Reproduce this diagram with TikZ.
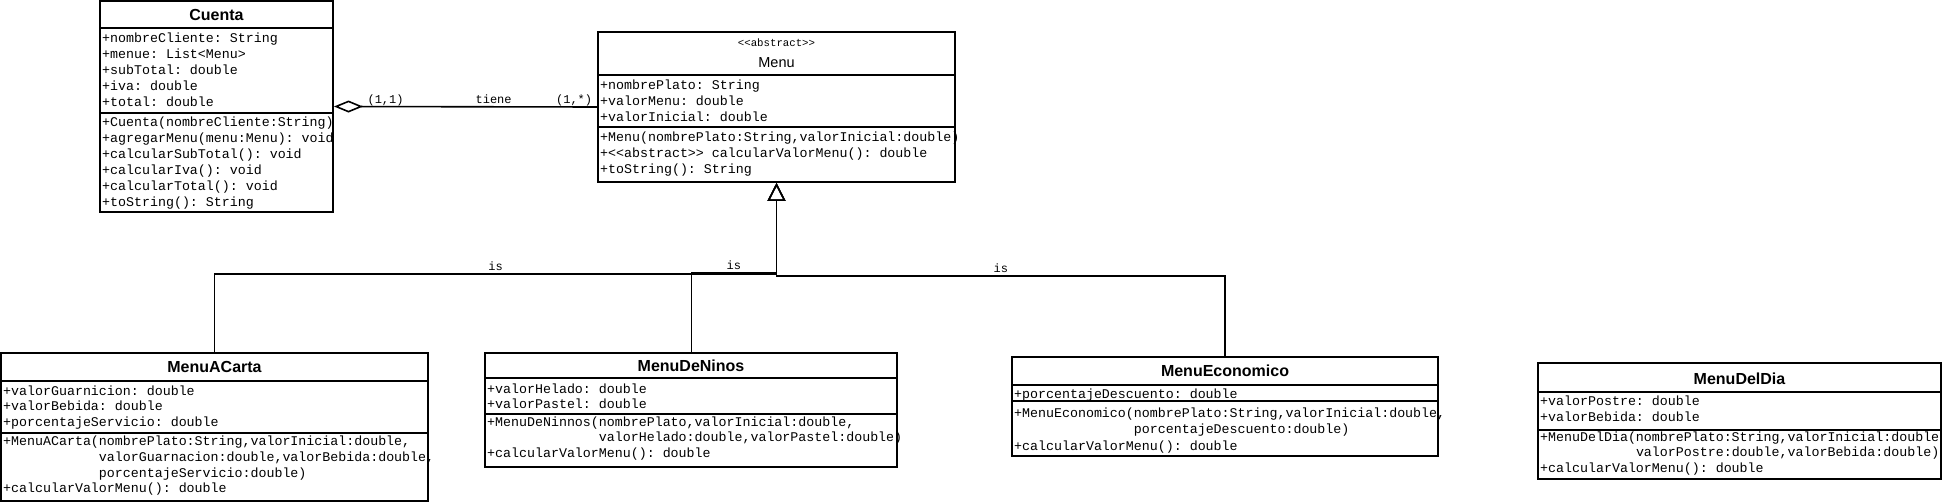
\documentclass[tikz,border=0pt]{standalone}
\usepackage{fontspec}
\setsansfont{Liberation Sans}
\setmonofont{Liberation Mono}
\usetikzlibrary{arrows.meta}

\begin{document}
\begin{tikzpicture}[x=1pt,y=-1pt,
  classbox/.style={draw, line width=2pt, inner sep=0pt},
  classname/.style={font=\sffamily\bfseries\fontsize{16}{18}\selectfont, inner sep=0pt},
  member/.style={font=\ttfamily\fontsize{13.3}{16}\selectfont, anchor=base west, inner sep=0pt},
  divider/.style={line width=2pt},
  assoc/.style={line width=1.6pt},
  linklabel/.style={font=\ttfamily\fontsize{12}{14}\selectfont, inner sep=0pt, anchor=base, yshift=3.5pt},
  isa/.style={line width=1.6pt, -{Triangle[open,length=18pt,width=18pt]}}]
\useasboundingbox (0,0) rectangle (1942,502);

% Cuenta
\node[classbox, minimum width=233pt, minimum height=211pt] (cuenta) at (216.5,106.5) {};
\node[classname] (cuenta-t) at (216.5,15) {Cuenta};
\draw[divider] (100,28) -- (333,28);
\draw[divider] (100,113) -- (333,113);
\foreach \t [count=\i] in {+nombreCliente: String, +menue: List<Menu>, +subTotal: double, +iva: double, +total: double}
  \node[member] (cuenta-a\i) at (102,26.9+15.85*\i) {\t};
\foreach \t [count=\i] in {+Cuenta(nombreCliente:String), +agregarMenu(menu:Menu): void, +calcularSubTotal(): void, +calcularIva(): void, +calcularTotal(): void, +toString(): String}
  \node[member] (cuenta-o\i) at (102,110.7+16*\i) {\t};

% Menu
\node[classbox, minimum width=357pt, minimum height=150pt] (menu) at (776.5,107) {};
\node[inner sep=0pt, anchor=base, font=\ttfamily\fontsize{10.7}{12}\selectfont] (menu-s) at (776.5,46.7) {<<abstract>>};
\node[inner sep=0pt, font=\sffamily\fontsize{14.5}{16}\selectfont] (menu-t) at (776.5,63) {Menu};
\draw[divider] (598,75) -- (955,75);
\draw[divider] (598,127) -- (955,127);
\foreach \t [count=\i] in {+nombrePlato: String, +valorMenu: double, +valorInicial: double}
  \node[member] (menu-a\i) at (600,73.4+16*\i) {\t};
\foreach \t [count=\i] in {{+Menu(nombrePlato:String,valorInicial:double)}, +<<abstract>> calcularValorMenu(): double, +toString(): String}
  \node[member] (menu-o\i) at (600,125.4+16*\i) {\t};

% MenuACarta
\node[classbox, minimum width=427pt, minimum height=148pt] (acarta) at (214.5,427) {};
\node[classname] (acarta-t) at (214.5,367) {MenuACarta};
\draw[divider] (1,381) -- (428,381);
\draw[divider] (1,433) -- (428,433);
\foreach \t [count=\i] in {+valorGuarnicion: double, +valorBebida: double, +porcentajeServicio: double}
  \node[member] (acarta-a\i) at (3,380+15.4*\i) {\t};
\foreach \t [count=\i] in {{+MenuACarta(nombrePlato:String,valorInicial:double,},
    {\phantom{+MenuACarta(}valorGuarnacion:double,valorBebida:double,},
    {\phantom{+MenuACarta(}porcentajeServicio:double)}, +calcularValorMenu(): double}
  \node[member] (acarta-o\i) at (3,429.6+15.8*\i) {\t};

% MenuDeNinos
\node[classbox, minimum width=412pt, minimum height=114pt] (deninos) at (691,410) {};
\node[classname] (deninos-t) at (691,366) {MenuDeNinos};
\draw[divider] (485,378) -- (897,378);
\draw[divider] (485,414) -- (897,414);
\foreach \t [count=\i] in {+valorHelado: double, +valorPastel: double}
  \node[member] (deninos-a\i) at (487,377.9+15.5*\i) {\t};
\foreach \t [count=\i] in {{+MenuDeNinnos(nombrePlato,valorInicial:double,},
    {\phantom{+MenuDeNinnos(}valorHelado:double,valorPastel:double)}, +calcularValorMenu(): double}
  \node[member] (deninos-o\i) at (487,410.6+15.5*\i) {\t};

% MenuEconomico
\node[classbox, minimum width=426pt, minimum height=99pt] (economico) at (1225,406.5) {};
\node[classname] (economico-t) at (1225,371) {MenuEconomico};
\draw[divider] (1012,385) -- (1438,385);
\draw[divider] (1012,401) -- (1438,401);
\node[member] (economico-a1) at (1014,398.4) {+porcentajeDescuento: double};
\foreach \t [count=\i] in {{+MenuEconomico(nombrePlato:String,valorInicial:double,},
    {\phantom{+MenuEconomico(}porcentajeDescuento:double)}, +calcularValorMenu(): double}
  \node[member] (economico-o\i) at (1014,401.5+16.2*\i) {\t};

% MenuDelDia
\node[classbox, minimum width=403pt, minimum height=116pt] (deldia) at (1739.5,421) {};
\node[classname] (deldia-t) at (1739.5,379) {MenuDelDia};
\draw[divider] (1538,392) -- (1941,392);
\draw[divider] (1538,430) -- (1941,430);
\foreach \t [count=\i] in {+valorPostre: double, +valorBebida: double}
  \node[member] (deldia-a\i) at (1540,389.7+15.7*\i) {\t};
\foreach \t [count=\i] in {{+MenuDelDia(nombrePlato:String,valorInicial:double},
    {\phantom{+MenuDelDia(}valorPostre:double,valorBebida:double)}, +calcularValorMenu(): double}
  \node[member] (deldia-o\i) at (1540,425.3+15.8*\i) {\t};

% Cuenta tiene Menu
\draw[assoc, {Diamond[open,length=29pt,width=12pt]}-] (cuenta.east) -- (menu.west)
  node[linklabel, pos=0.196] (card-c) {(1,1)}
  node[linklabel, pos=0.607] (tiene) {tiene}
  node[linklabel, pos=0.913] (card-m) {(1,*)};

% herencia
\draw[isa] (acarta.north) |- (776.5,274) node[linklabel, pos=0.75] (is-acarta) {is} -- (menu.south);
\draw[isa, line width=1pt] (deninos.north) |- (776.5,273) node[linklabel, pos=0.75] (is-deninos) {is} -- (menu.south);
\draw[isa] (economico.north) |- (776.5,276) node[linklabel, pos=0.75] (is-economico) {is} -- (menu.south);
\end{tikzpicture}
\end{document}
